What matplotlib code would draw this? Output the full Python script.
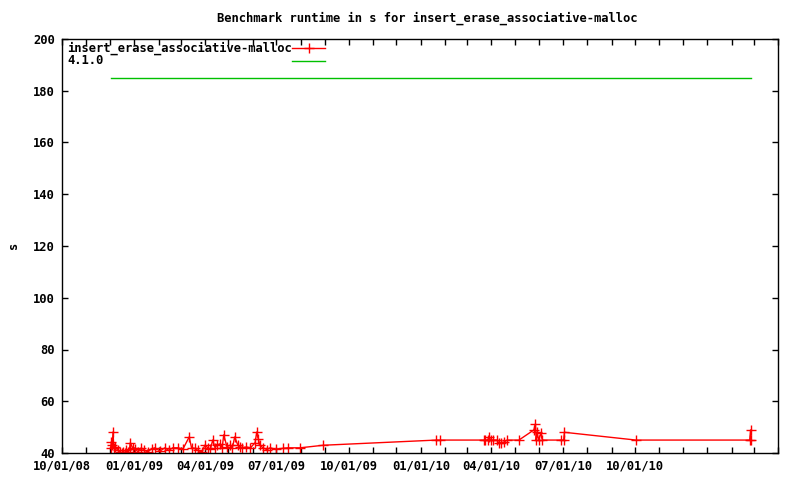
import matplotlib
matplotlib.use("Agg")
import matplotlib.pyplot as plt
import matplotlib.dates as mdates
from matplotlib.lines import Line2D
import pandas as pd

title = "Benchmark runtime in s for insert_erase_associative-malloc"
series_name = "insert_erase_associative-malloc"
ref_name = "4.1.0"

dates = [
    "2008-12-02", "2008-12-03", "2008-12-04", "2008-12-05", "2008-12-06", "2008-12-08",
    "2008-12-11", "2008-12-14", "2008-12-16", "2008-12-18", "2008-12-20", "2008-12-22",
    "2008-12-24", "2008-12-26", "2008-12-27", "2008-12-30", "2009-01-02", "2009-01-06",
    "2009-01-10", "2009-01-14", "2009-01-18", "2009-01-23", "2009-01-27", "2009-02-03",
    "2009-02-09", "2009-02-14", "2009-02-19", "2009-02-26", "2009-03-04", "2009-03-12",
    "2009-03-15", "2009-03-19", "2009-03-23", "2009-03-28", "2009-04-01", "2009-04-05",
    "2009-04-08", "2009-04-11", "2009-04-14", "2009-04-16", "2009-04-20", "2009-04-23",
    "2009-04-25", "2009-04-29", "2009-05-03", "2009-05-06", "2009-05-09", "2009-05-13",
    "2009-05-16", "2009-05-18", "2009-05-24", "2009-05-29", "2009-06-04", "2009-06-06",
    "2009-06-08", "2009-06-10", "2009-06-14", "2009-06-19", "2009-06-23", "2009-06-30",
    "2009-07-09", "2009-07-16", "2009-07-31", "2009-08-30", "2010-01-21", "2010-01-25",
    "2010-03-22", "2010-03-24", "2010-03-27", "2010-03-29", "2010-03-31", "2010-04-03",
    "2010-04-08", "2010-04-10", "2010-04-13", "2010-04-17", "2010-04-21", "2010-05-06",
    "2010-05-25", "2010-05-27", "2010-05-28", "2010-05-29", "2010-05-31", "2010-06-03",
    "2010-06-05", "2010-06-28", "2010-07-02", "2010-07-03", "2010-10-02", "2011-02-24",
    "2011-02-25", "2011-02-26",
]
values = [
    42, 44.4, 43, 48.1, 42, 42.5,
    41, 40.3, 40, 40.5, 40, 41,
    40.2, 41.5, 43.9, 42, 41.5, 40.5,
    42, 41, 40.5, 41.5, 42, 40.8,
    42, 41, 42, 42, 41.5, 46.2,
    42, 41.8, 41, 40.4, 43, 42,
    41.5, 45, 42, 43, 43.5, 42,
    47, 42.5, 43, 42, 46.2, 43,
    42.5, 42, 42.3, 42, 44, 48.1,
    45.5, 43, 42, 41.3, 42, 41.5,
    41.8, 42, 42, 43, 45, 45,
    45, 45, 45, 46.2, 45, 45,
    45, 44, 44, 44.2, 45, 45,
    48.9, 51.2, 45, 48, 45, 47.7,
    45, 45, 45, 48, 45, 45,
    48.9, 45,
]

ref_dates = ["2008-12-02", "2011-02-26"]
ref_values = [185, 185]

x_range = ["2008-10-01", "2011-04-01"]
x_label_dates = ["2008-10-01", "2009-01-01", "2009-04-01", "2009-07-01", "2009-10-01",
                 "2010-01-01", "2010-04-01", "2010-07-01", "2010-10-01"]
y_range = [40, 200]
y_ticks = [40, 60, 80, 100, 120, 140, 160, 180, 200]

FS = 8.7
plt.rcParams["font.family"] = "DejaVu Sans Mono"
plt.rcParams["font.weight"] = "bold"
plt.rcParams["font.size"] = FS

fig = plt.figure(figsize=(8, 4.8), dpi=100)
ax = fig.add_axes([62 / 800, 27 / 480, (778 - 62) / 800, (453 - 39) / 480])

ax.plot(pd.to_datetime(dates), values, color="#ff0000", lw=1.0, marker="+",
        markersize=7, markeredgewidth=1.0)
ax.plot(pd.to_datetime(ref_dates), ref_values, color="#00c000", lw=1.0)

ax.set_xlim(pd.to_datetime(x_range[0]), pd.to_datetime(x_range[1]))
ax.set_ylim(*y_range)
ax.set_yticks(y_ticks)
ax.set_xticks(pd.to_datetime(x_label_dates))
ax.xaxis.set_minor_locator(mdates.MonthLocator())
ax.xaxis.set_major_formatter(mdates.DateFormatter("%m/%d/%y"))
ax.tick_params(which="both", direction="in", top=True, right=True, length=4,
               width=1, labelsize=FS, pad=5)
for s in ax.spines.values():
    s.set_linewidth(1.0)

fig.text(14 / 800, 1 - 245 / 480, "s", rotation=90, ha="center", va="center",
         fontsize=FS, fontweight="bold")
fig.text(427 / 800, 1 - 18 / 480, title, ha="center", va="center",
         fontsize=FS, fontweight="bold")

# legend (gnuplot style: left-aligned text, sample on the right)
fig.text(67 / 800, 1 - 48 / 480, series_name, ha="left", va="center",
         fontsize=FS, fontweight="bold")
fig.text(67 / 800, 1 - 61 / 480, ref_name, ha="left", va="center",
         fontsize=FS, fontweight="bold")
fig.add_artist(Line2D([292 / 800, 325 / 800], [1 - 48 / 480, 1 - 48 / 480],
                      color="#ff0000", lw=1.0, transform=fig.transFigure))
fig.add_artist(Line2D([308.5 / 800], [1 - 48 / 480], color="#ff0000", marker="+",
                      markersize=7, markeredgewidth=1.0, transform=fig.transFigure))
fig.add_artist(Line2D([292 / 800, 325 / 800], [1 - 61 / 480, 1 - 61 / 480],
                      color="#00c000", lw=1.0, transform=fig.transFigure))

fig.savefig("out.png", dpi=100)
